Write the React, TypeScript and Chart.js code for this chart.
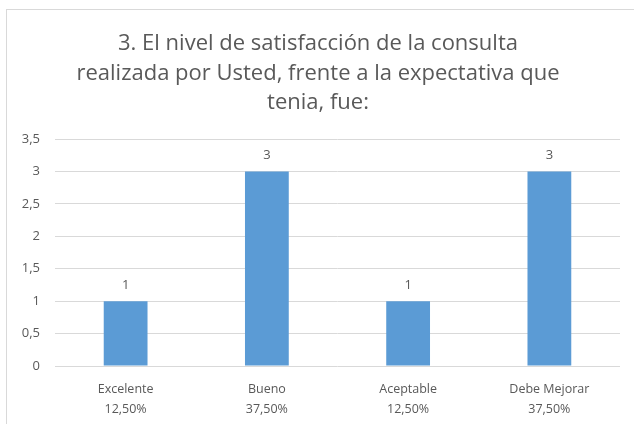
import React, { useEffect, useRef } from "react";
import { Chart, registerables } from "chart.js";
Chart.register(...registerables);

const titleLines = [
  "3. El nivel de satisfacción de la consulta",
  "realizada por Usted, frente a la expectativa que",
  "tenia, fue:",
];
const categories = ["Excelente", "Bueno", "Aceptable", "Debe Mejorar"];
const percentLabels = ["12,50%", "37,50%", "12,50%", "37,50%"];
const counts = [1, 3, 1, 3];
const yMax = 3.5;
const yStep = 0.5;

const FONT = "'Open Sans', 'Noto Sans', sans-serif";
const TEXT = "#595959";

export default function App() {
  const ref = useRef<HTMLCanvasElement | null>(null);
  useEffect(() => {
    document.body.style.margin = "0";
    const canvas = ref.current!;
    const decor = {
      id: "decor",
      beforeDraw(chart: any) {
        const ctx = chart.ctx;
        ctx.save();
        ctx.fillStyle = "#ffffff";
        ctx.fillRect(0, 0, chart.width, chart.height);
        ctx.strokeStyle = "#d9d9d9";
        ctx.lineWidth = 1;
        ctx.strokeRect(6.5, 9.5, chart.width + 10, chart.height + 10);
        ctx.fillStyle = TEXT;
        ctx.font = `22px ${FONT}`;
        ctx.textAlign = "center";
        ctx.textBaseline = "middle";
        titleLines.forEach((t, i) => ctx.fillText(t, 318, 44 + i * 29.5));
        ctx.restore();
      },
      afterDatasetsDraw(chart: any) {
        const ctx = chart.ctx;
        const meta = chart.getDatasetMeta(0);
        ctx.save();
        ctx.fillStyle = TEXT;
        ctx.font = `13px ${FONT}`;
        ctx.textAlign = "center";
        ctx.textBaseline = "middle";
        meta.data.forEach((el: any, i: number) => {
          ctx.fillText(String(counts[i]), el.x, el.y - 16);
        });
        ctx.restore();
      },
    };
    const chart = new Chart(canvas, {
      type: "bar",
      data: {
        labels: categories.map((c, i) => [c, percentLabels[i]]),
        datasets: [
          {
            data: counts,
            backgroundColor: "#5B9BD5",
            categoryPercentage: 1,
            barPercentage: 0.31,
          },
        ],
      },
      options: {
        animation: false,
        responsive: false,
        layout: { padding: { top: 139, right: 14, left: 0, bottom: 0 } },
        plugins: { legend: { display: false }, tooltip: { enabled: false }, title: { display: false } },
        scales: {
          x: {
            grid: { display: false },
            border: { display: false },
            ticks: { color: TEXT, font: { family: FONT, size: 12.5, lineHeight: 1.55 }, padding: 6, maxRotation: 0 },
            afterFit: (s: any) => { s.height = 58; },
          },
          y: {
            min: 0,
            max: yMax,
            ticks: {
              stepSize: yStep,
              color: TEXT,
              font: { family: FONT, size: 13 },
              padding: 15,
              callback: (v: any) => String(v).replace(".", ","),
            },
            grid: { color: "#d9d9d9", drawTicks: false, lineWidth: 1 },
            border: { display: false },
            afterFit: (s: any) => { s.width = 55; },
          },
        },
      },
      plugins: [decor],
    });
    return () => chart.destroy();
  }, []);
  return <canvas ref={ref} width={634} height={424} style={{ display: "block" }} />;
}
